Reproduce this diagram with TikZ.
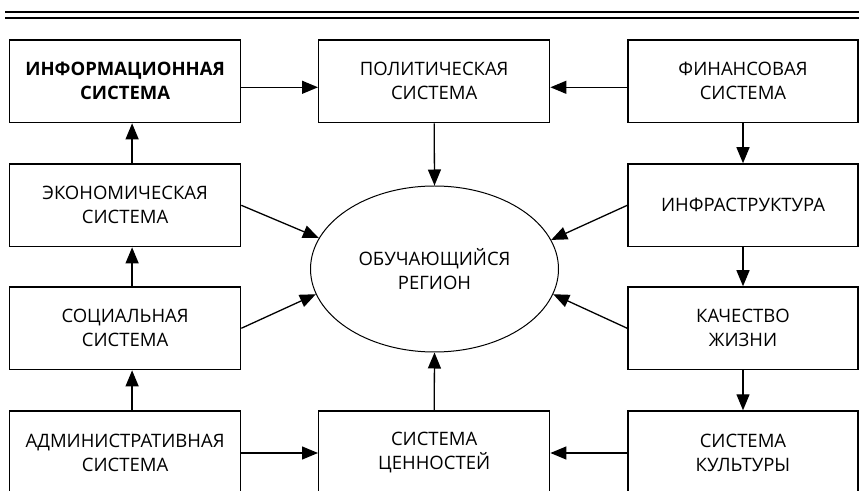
\documentclass[tikz,border=0pt]{standalone}
\usepackage{fontspec}
\setmainfont{Open Sans}
\usetikzlibrary{arrows.meta,shapes.geometric,calc}
\begin{document}
\begin{tikzpicture}[x=1pt,y=1pt,
  box/.style={draw,line width=1.4pt,minimum width=231pt,minimum height=82.7pt,inner sep=0pt,align=center,font=\fontsize{18.5}{24}\selectfont},
  lastbox/.style={box,minimum height=84pt},
  arr/.style={line width=1.3pt,-{Triangle[length=16pt,width=13pt]}},
  oval/.style={draw,ellipse,line width=1pt,minimum width=248pt,minimum height=166pt,inner sep=0pt,align=center,font=\fontsize{18.5}{24}\selectfont}]
\useasboundingbox (0,0) rectangle (859,490);
\coordinate (r1a) at (5,478);
\coordinate (r1b) at (859,478);
\coordinate (r2a) at (5,472);
\coordinate (r2b) at (859,472);
\draw[line width=1.2pt] (r1a) -- (r1b);
\draw[line width=1.8pt] (r2a) -- (r2b);
\node[box] (info) at (125.1,408.7) {\bfseries ИНФОРМАЦИОННАЯ\\\bfseries СИСТЕМА};
\node[box] (polit) at (434.2,408.7) {ПОЛИТИЧЕСКАЯ\\СИСТЕМА};
\node[box,minimum width=230pt] (fin) at (743,408.7) {ФИНАНСОВАЯ\\СИСТЕМА};
\node[box] (econ) at (125.1,284.7) {ЭКОНОМИЧЕСКАЯ\\СИСТЕМА};
\node[box,minimum width=230pt] (infra) at (743,284.7) {ИНФРАСТРУКТУРА};
\node[box] (social) at (125.1,161.7) {СОЦИАЛЬНАЯ\\СИСТЕМА};
\node[box,minimum width=230pt] (quality) at (743,161.7) {КАЧЕСТВО\\ЖИЗНИ};
\node[lastbox] (admin) at (125.1,37) {АДМИНИСТРАТИВНАЯ\\СИСТЕМА};
\node[lastbox] (values) at (434.2,37) {СИСТЕМА\\ЦЕННОСТЕЙ};
\node[lastbox,minimum width=230pt] (culture) at (743,37) {СИСТЕМА\\КУЛЬТУРЫ};
\node[oval] (region) at (434.5,221) {ОБУЧАЮЩИЙСЯ\\РЕГИОН};
% top row
\draw[arr] ([yshift=-6pt]info.east) -- ([yshift=-6pt]polit.west);
\draw[arr] ([yshift=-6pt]fin.west) -- ([yshift=-6pt]polit.east);
\draw[arr] (polit.south) -- (region.north);
% left column
\draw[arr] ([xshift=7pt]econ.north) -- ([xshift=7pt]info.south);
\draw[arr] ([xshift=7pt]social.north) -- ([xshift=7pt]econ.south);
\draw[arr] ([xshift=7pt]admin.north) -- ([xshift=7pt]social.south);
% right column
\draw[arr] (fin.south) -- (infra.north);
\draw[arr] (infra.south) -- (quality.north);
\draw[arr] (quality.south) -- (culture.north);
% bottom row
\draw[arr] (admin.east) -- (values.west);
\draw[arr] (culture.west) -- (values.east);
\draw[arr] (values.north) -- (region.south);
% diagonals
\draw[arr] (econ.east) -- (region.165);
\draw[arr] (social.east) -- (region.192);
\draw[arr] (infra.west) -- (region.14);
\draw[arr] (quality.west) -- (region.348);
\end{tikzpicture}
\end{document}
